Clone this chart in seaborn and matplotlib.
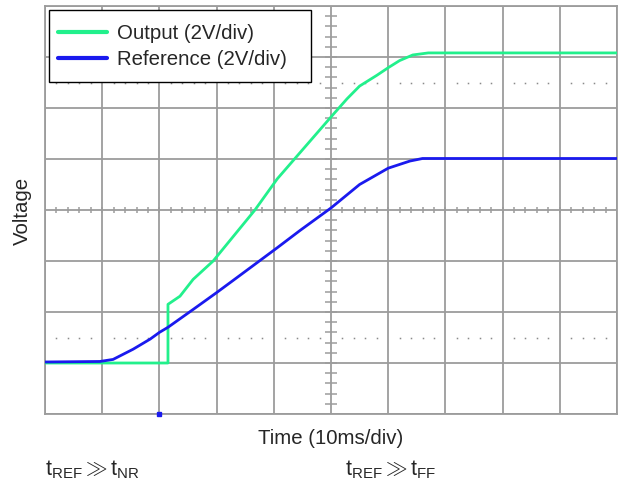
import numpy as np
import pandas as pd
import matplotlib
matplotlib.use("Agg")
import matplotlib.pyplot as plt
from matplotlib.patches import Rectangle
import seaborn as sns

# ---- data (x in time divisions, y in voltage divisions) ----
output_x = [0.0, 2.15, 2.15, 2.36, 2.59, 2.94, 3.67, 4.06, 5.02, 5.28, 5.5, 5.8, 6.0, 6.2, 6.43, 6.7, 8.0, 10.0]
output_y = [-3.0, -3.0, -1.85, -1.69, -1.36, -1.0, 0.0, 0.61, 1.85, 2.18, 2.43, 2.64, 2.79, 2.93, 3.04, 3.08, 3.08, 3.08]

ref_x = [0.0, 0.96, 1.19, 1.54, 1.84, 2.0, 2.15, 2.59, 3.0, 3.29, 4.06, 4.46, 5.0, 5.5, 6.0, 6.38, 6.6, 8.0, 10.0]
ref_y = [-2.98, -2.97, -2.93, -2.73, -2.53, -2.40, -2.30, -1.95, -1.62, -1.38, -0.74, -0.40, 0.04, 0.50, 0.82, 0.96, 1.01, 1.01, 1.01]

series_names = ["Output (2V/div)", "Reference (2V/div)"]
series_colors = ["#22f08c", "#1a1aee"]
x_label = "Time (10ms/div)"
y_label = "Voltage"
notes = [r"$\mathrm{t_{REF}} \gg \mathrm{t_{NR}}$", r"$\mathrm{t_{REF}} \gg \mathrm{t_{FF}}$"]

df = pd.concat([
    pd.DataFrame({"t": output_x, "v": output_y, "series": series_names[0]}),
    pd.DataFrame({"t": ref_x, "v": ref_y, "series": series_names[1]}),
], ignore_index=True)

sns.set_theme(style="white")
plt.rcParams["font.family"] = ["Liberation Sans", "DejaVu Sans"]
plt.rcParams["mathtext.fontset"] = "custom"
plt.rcParams["mathtext.rm"] = "Liberation Sans"
plt.rcParams["mathtext.it"] = "Liberation Sans"
plt.rcParams["mathtext.bf"] = "Liberation Sans"

W, H = 618, 487
fig = plt.figure(figsize=(W / 100, H / 100), dpi=100)
L, R, T, B = 45, 617, 6, 414
ax = fig.add_axes([L / W, 1 - B / H, (R - L) / W, (B - T) / H])

grid_c = "#9c9c9c"
ax.set_xlim(0, 10)
ax.set_ylim(-4, 4)
ax.set_xticks(np.arange(0, 11, 1))
ax.set_yticks(np.arange(-4, 5, 1))
ax.grid(True, color=grid_c, lw=1.3)
ax.set_axisbelow(True)
ax.tick_params(length=0, labelbottom=False, labelleft=False)
for s in ax.spines.values():
    s.set_color(grid_c)
    s.set_linewidth(1.3)

# centre crosshair minor ticks
minor_y = np.arange(-4, 4.001, 0.2)
ax.hlines(minor_y, 5 - 0.1, 5 + 0.1, color=grid_c, lw=1.1, zorder=1)
minor_x = np.arange(0, 10.001, 0.2)
ax.vlines(minor_x, -0.065, 0.065, color=grid_c, lw=1.1, zorder=1)

# dotted reference levels
dot_x = np.array([x for x in minor_x if abs(x - round(x)) > 1e-6])
for lvl in (2.5, -2.5):
    ax.plot(dot_x, np.full_like(dot_x, lvl), ls="none", marker="s", ms=1.1,
            mec="none", color="#8a8a8a", zorder=1)

sns.lineplot(data=df, x="t", y="v", hue="series", palette=series_colors,
             hue_order=series_names, estimator=None, sort=False, lw=2.0, ax=ax, zorder=3)

# trigger marker
ax.plot([2.0], [-4.0], marker="s", ms=2.5, color=series_colors[1], clip_on=False, zorder=4)

ax.set_xlabel("")
ax.set_ylabel("")
fig.text(331 / W, 1 - 439 / H, x_label, ha="center", va="center", fontsize=14.7)
fig.text(22 / W, 1 - 211 / H, y_label, rotation=90, ha="center", va="center", fontsize=14.7)

# legend box (fixed size, as in the reference)
box = Rectangle((49 / W, 1 - 82 / H), (311 - 49) / W, (82 - 10) / H, transform=fig.transFigure,
                facecolor="white", edgecolor="black", lw=1.0, zorder=5)
fig.add_artist(box)
leg = ax.legend(loc="upper left", bbox_to_anchor=(58 / W, 1 - 24 / H),
                bbox_transform=fig.transFigure, frameon=False, fontsize=14.7,
                handlelength=2.4, handletextpad=0.5, borderpad=0.0, borderaxespad=0.0,
                labelspacing=0.35)
leg.set_zorder(6)
fig.add_artist(leg)
for ln in leg.get_lines():
    ln.set_linewidth(3.0)

fig.text(45 / W, 1 - 470 / H, notes[0], fontsize=15.5, va="center", ha="left")
fig.text(345 / W, 1 - 470 / H, notes[1], fontsize=15.5, va="center", ha="left")

fig.savefig("out.png", dpi=100)
